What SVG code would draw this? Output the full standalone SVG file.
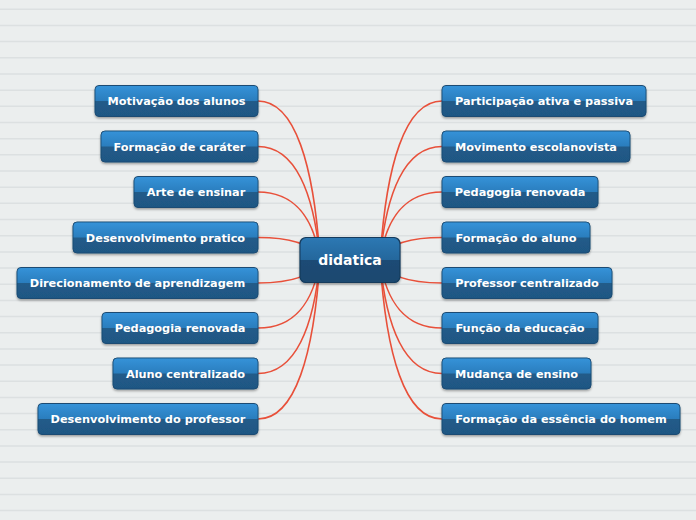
<svg xmlns="http://www.w3.org/2000/svg" width="696" height="520" viewBox="0 0 696 520">
<defs>
<linearGradient id="gTop" x1="0" y1="0" x2="0" y2="1">
<stop offset="0" stop-color="#3592d8"/><stop offset="1" stop-color="#2a7dbd"/>
</linearGradient>
<linearGradient id="gBot" x1="0" y1="0" x2="0" y2="1">
<stop offset="0" stop-color="#235f90"/><stop offset="1" stop-color="#1f5783"/>
</linearGradient>
<linearGradient id="cTop" x1="0" y1="0" x2="0" y2="1">
<stop offset="0" stop-color="#2c78b3"/><stop offset="1" stop-color="#24679c"/>
</linearGradient>
<linearGradient id="cBot" x1="0" y1="0" x2="0" y2="1">
<stop offset="0" stop-color="#1c4e79"/><stop offset="1" stop-color="#1a4870"/>
</linearGradient>
<filter id="sh" x="-10%" y="-20%" width="120%" height="150%">
<feDropShadow dx="0" dy="1.5" stdDeviation="1" flood-color="#000" flood-opacity="0.35"/>
</filter>
</defs>
<style>
.bg{fill:#ebeeee}
.rule{stroke:#dce0e1;stroke-width:1.5;fill:none}
.con path{fill:none;stroke:#e8503a;stroke-width:1.6}
.node .b{fill:url(#gBot);stroke:#1b4b73;stroke-width:1;filter:url(#sh)}
.node .t{fill:url(#gTop)}
.node text{font-family:"DejaVu Sans",Verdana,sans-serif;font-weight:bold;font-size:11.3px;fill:#fff;text-anchor:middle}
.center .b{fill:url(#cBot);stroke:#123a5c;stroke-width:1.2;filter:url(#sh)}
.center .t{fill:url(#cTop)}
.center text{font-family:"DejaVu Sans",Verdana,sans-serif;font-weight:bold;font-size:14px;fill:#fff;text-anchor:middle}
</style>
<rect class="bg" x="0" y="0" width="696" height="520"/>
<path class="rule" d="M0 9.3H696M0 25.5H696M0 41.6H696M0 57.8H696M0 74H696M0 90.2H696M0 106.3H696M0 122.5H696M0 138.7H696M0 154.8H696M0 171H696M0 187.2H696M0 203.3H696M0 219.5H696M0 235.7H696M0 251.9H696M0 268H696M0 284.2H696M0 300.4H696M0 316.5H696M0 332.7H696M0 348.9H696M0 365H696M0 381.2H696M0 397.4H696M0 413.6H696M0 429.7H696M0 445.9H696M0 462.1H696M0 478.2H696M0 494.4H696M0 510.6H696"/>
<g id="connectors" class="con">
<path d="M258 101 C295 101,314 165,320 260"/>
<path d="M258 146.5 C295 146.5,314 192,320 260"/>
<path d="M258 192 C295 192,314 219,320 260"/>
<path d="M258 237.5 C295 237.5,314 246,320 260"/>
<path d="M258 283 C295 283,314 274,320 260"/>
<path d="M258 328 C295 328,314 301,320 260"/>
<path d="M258 373.5 C295 373.5,314 328,320 260"/>
<path d="M258 419 C295 419,314 355,320 260"/>
<path d="M442 101 C405 101,386 165,380 260"/>
<path d="M442 146.5 C405 146.5,386 192,380 260"/>
<path d="M442 192 C405 192,386 219,380 260"/>
<path d="M442 237.5 C405 237.5,386 246,380 260"/>
<path d="M442 283 C405 283,386 274,380 260"/>
<path d="M442 328 C405 328,386 301,380 260"/>
<path d="M442 373.5 C405 373.5,386 328,380 260"/>
<path d="M442 419 C405 419,386 355,380 260"/>
</g>
<g id="center" class="center">
<rect class="b" x="300" y="237.5" width="100" height="45" rx="6"/>
<path class="t" d="M300.6 260 V244 a6 6 0 0 1 6 -6 H393.4 a6 6 0 0 1 6 6 V260 Z"/>
<text x="350" y="265">didatica</text>
</g>
<g id="l1" class="node"><rect class="b" x="95" y="85.5" width="163" height="31" rx="4"/><path class="t" d="M95.5 101V90a4 4 0 0 1 4-4H253.5a4 4 0 0 1 4 4V101Z"/><text x="176.5" y="105">Motivação dos alunos</text></g>
<g id="l2" class="node"><rect class="b" x="101" y="131" width="157" height="31" rx="4"/><path class="t" d="M101.5 146.5V135.5a4 4 0 0 1 4-4H253.5a4 4 0 0 1 4 4V146.5Z"/><text x="179.5" y="150.5">Formação de caráter</text></g>
<g id="l3" class="node"><rect class="b" x="134" y="176.5" width="124" height="31" rx="4"/><path class="t" d="M134.5 192V181a4 4 0 0 1 4-4H253.5a4 4 0 0 1 4 4V192Z"/><text x="196" y="196">Arte de ensinar</text></g>
<g id="l4" class="node"><rect class="b" x="73" y="222" width="185" height="31" rx="4"/><path class="t" d="M73.5 237.5V226.5a4 4 0 0 1 4-4H253.5a4 4 0 0 1 4 4V237.5Z"/><text x="165.5" y="241.5">Desenvolvimento pratico</text></g>
<g id="l5" class="node"><rect class="b" x="17" y="267.5" width="241" height="31" rx="4"/><path class="t" d="M17.5 283V272a4 4 0 0 1 4-4H253.5a4 4 0 0 1 4 4V283Z"/><text x="137.5" y="287">Direcionamento de aprendizagem</text></g>
<g id="l6" class="node"><rect class="b" x="102" y="312.5" width="156" height="31" rx="4"/><path class="t" d="M102.5 328V317a4 4 0 0 1 4-4H253.5a4 4 0 0 1 4 4V328Z"/><text x="180" y="332">Pedagogia renovada</text></g>
<g id="l7" class="node"><rect class="b" x="113" y="358" width="145" height="31" rx="4"/><path class="t" d="M113.5 373.5V362.5a4 4 0 0 1 4-4H253.5a4 4 0 0 1 4 4V373.5Z"/><text x="185.5" y="377.5">Aluno centralizado</text></g>
<g id="l8" class="node"><rect class="b" x="38" y="403.5" width="220" height="31" rx="4"/><path class="t" d="M38.5 419V408a4 4 0 0 1 4-4H253.5a4 4 0 0 1 4 4V419Z"/><text x="148" y="423">Desenvolvimento do professor</text></g>
<g id="r1" class="node"><rect class="b" x="442" y="85.5" width="204" height="31" rx="4"/><path class="t" d="M442.5 101V90a4 4 0 0 1 4-4H641.5a4 4 0 0 1 4 4V101Z"/><text x="544" y="105">Participação ativa e passiva</text></g>
<g id="r2" class="node"><rect class="b" x="442" y="131" width="188" height="31" rx="4"/><path class="t" d="M442.5 146.5V135.5a4 4 0 0 1 4-4H625.5a4 4 0 0 1 4 4V146.5Z"/><text x="536" y="150.5">Movimento escolanovista</text></g>
<g id="r3" class="node"><rect class="b" x="442" y="176.5" width="156" height="31" rx="4"/><path class="t" d="M442.5 192V181a4 4 0 0 1 4-4H593.5a4 4 0 0 1 4 4V192Z"/><text x="520" y="196">Pedagogia renovada</text></g>
<g id="r4" class="node"><rect class="b" x="442" y="222" width="148" height="31" rx="4"/><path class="t" d="M442.5 237.5V226.5a4 4 0 0 1 4-4H585.5a4 4 0 0 1 4 4V237.5Z"/><text x="516" y="241.5">Formação do aluno</text></g>
<g id="r5" class="node"><rect class="b" x="442" y="267.5" width="170" height="31" rx="4"/><path class="t" d="M442.5 283V272a4 4 0 0 1 4-4H607.5a4 4 0 0 1 4 4V283Z"/><text x="527" y="287">Professor centralizado</text></g>
<g id="r6" class="node"><rect class="b" x="442" y="312.5" width="156" height="31" rx="4"/><path class="t" d="M442.5 328V317a4 4 0 0 1 4-4H593.5a4 4 0 0 1 4 4V328Z"/><text x="520" y="332">Função da educação</text></g>
<g id="r7" class="node"><rect class="b" x="442" y="358" width="149" height="31" rx="4"/><path class="t" d="M442.5 373.5V362.5a4 4 0 0 1 4-4H586.5a4 4 0 0 1 4 4V373.5Z"/><text x="516.5" y="377.5">Mudança de ensino</text></g>
<g id="r8" class="node"><rect class="b" x="442" y="403.5" width="238" height="31" rx="4"/><path class="t" d="M442.5 419V408a4 4 0 0 1 4-4H675.5a4 4 0 0 1 4 4V419Z"/><text x="561" y="423">Formação da essência do homem</text></g>
</svg>
